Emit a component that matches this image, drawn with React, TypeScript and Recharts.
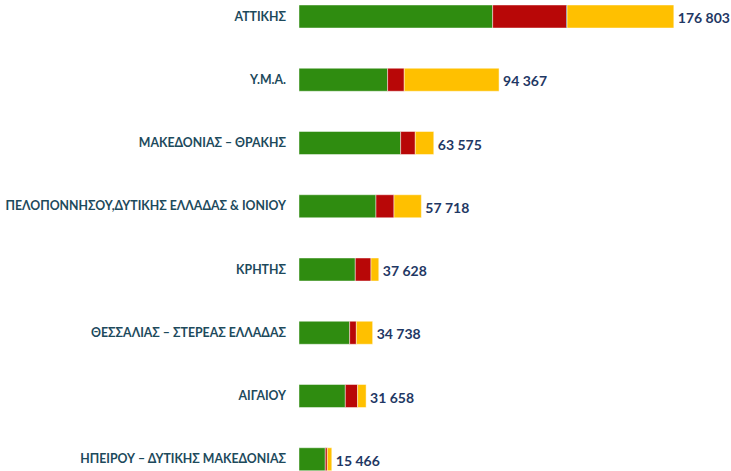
import { BarChart, Bar, XAxis, YAxis, LabelList } from "recharts";

// ─── data ─────────────────────────────────────────────────────────────────────

const regions = [
  "ΑΤΤΙΚΗΣ",
  "Υ.Μ.Α.",
  "ΜΑΚΕΔΟΝΙΑΣ – ΘΡΑΚΗΣ",
  "ΠΕΛΟΠΟΝΝΗΣΟΥ,ΔΥΤΙΚΗΣ ΕΛΛΑΔΑΣ & ΙΟΝΙΟΥ",
  "ΚΡΗΤΗΣ",
  "ΘΕΣΣΑΛΙΑΣ – ΣΤΕΡΕΑΣ ΕΛΛΑΔΑΣ",
  "ΑΙΓΑΙΟΥ",
  "ΗΠΕΙΡΟΥ – ΔΥΤΙΚΗΣ ΜΑΚΕΔΟΝΙΑΣ",
];
const greenValues = [91350, 41800, 47950, 36300, 26550, 23900, 21850, 12400];
const redValues = [34850, 7850, 6900, 8500, 7400, 3150, 5800, 950];
const blueValues = [250, 0, 0, 0, 0, 0, 0, 0];
const yellowValues = [50353, 44717, 8725, 12918, 3678, 7688, 4008, 2116];
const totals = [176803, 94367, 63575, 57718, 37628, 34738, 31658, 15466];

const data = regions.map((name, i) => ({
  name,
  green: greenValues[i],
  red: redValues[i],
  blue: blueValues[i],
  yellow: yellowValues[i],
  total: totals[i],
}));

const fmt = (v: number) => String(v).replace(/\B(?=(\d{3})+(?!\d))/g, " ");

// ─── helpers ──────────────────────────────────────────────────────────────────

function RegionTick({ x, y, payload }: { x?: number; y?: number; payload?: { value: string } }) {
  return (
    <text
      x={x}
      y={y}
      dx={-5}
      dy={4}
      textAnchor="end"
      fill="#1d4a5c"
      fontSize={12.3}
      fontWeight={700}
      fontFamily="Lato, sans-serif"
    >
      {payload?.value}
    </text>
  );
}

function TotalLabel(props: any) {
  const { x, y, width, height, index } = props;
  return (
    <text
      x={x + width + 4}
      y={y + height / 2 + 3}
      dominantBaseline="middle"
      fill="#1f3864"
      fontSize={14}
      fontWeight={700}
      fontFamily="Lato, sans-serif"
    >
      {fmt(totals[index])}
    </text>
  );
}

// ─── main ─────────────────────────────────────────────────────────────────────

export default function App() {
  const edge = "rgba(255,255,255,0.45)";
  return (
    <div
      style={{
        position: "absolute",
        left: 0,
        top: 0,
        width: 731,
        height: 471,
        overflow: "hidden",
        background: "#ffffff",
      }}
    >
      <div style={{ position: "relative", top: -15 }}>
        <BarChart
          layout="vertical"
          width={731}
          height={506}
          data={data}
          margin={{ top: 0, right: 8, left: 0, bottom: 0 }}
          barSize={23}
        >
          <XAxis type="number" domain={[0, 200000]} hide />
          <YAxis
            type="category"
            dataKey="name"
            width={299}
            axisLine={false}
            tickLine={false}
            interval={0}
            tick={<RegionTick />}
          />
          <Bar dataKey="green" stackId="a" fill="#2f8c10" stroke={edge} isAnimationActive={false} />
          <Bar dataKey="red" stackId="a" fill="#b80707" stroke={edge} isAnimationActive={false} />
          <Bar dataKey="blue" stackId="a" fill="#2f5597" isAnimationActive={false} />
          <Bar dataKey="yellow" stackId="a" fill="#ffc000" stroke={edge} isAnimationActive={false}>
            <LabelList dataKey="total" content={<TotalLabel />} />
          </Bar>
        </BarChart>
      </div>
    </div>
  );
}
